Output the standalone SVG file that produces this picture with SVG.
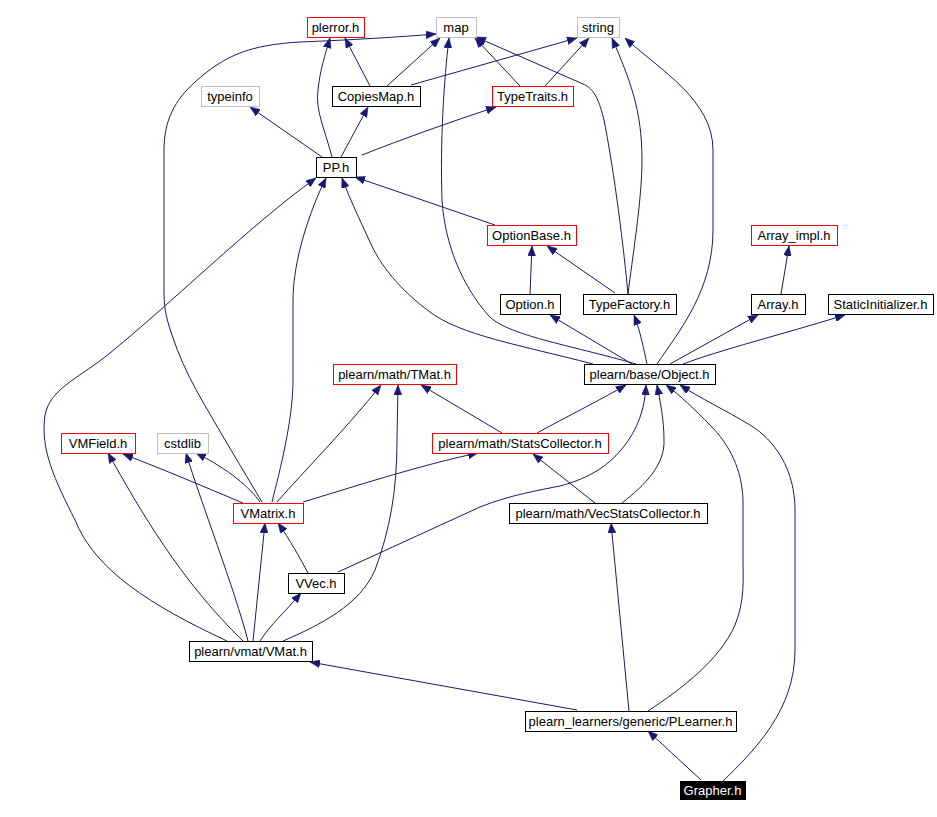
<svg xmlns="http://www.w3.org/2000/svg" width="937" height="817" viewBox="0 0 937 817">
<style>
.n rect{fill:#fff;stroke:#000;stroke-width:1}
.n.r rect{stroke:#ff0000}
.n.g rect{stroke:#bfbfbf}
.n text{font-family:"Liberation Sans",Arial,sans-serif;font-size:13px;text-anchor:middle;fill:#000}
#Grapher rect{fill:#000;stroke:#000}
#Grapher text{fill:#fff}
#edges path{fill:none;stroke:#191970;stroke-width:1;marker-end:url(#ah)}
</style>
<defs>
<marker id="ah" markerWidth="10" markerHeight="8" refX="10" refY="4" orient="auto" markerUnits="userSpaceOnUse">
<path d="M0,0 L10,4 L0,8 z" fill="#191970" stroke="#191970" stroke-width="0.5"/>
</marker>
</defs>
<rect width="937" height="817" fill="#fff"/>
<g id="edges">
<path d="M262,502 L225,440 C205,405 185,375 172,335 C165,315 164,305 164,290 L164,150 C164,120 175,100 195,82 C225,55 250,45 300,42 C350,40 400,37 436,34"/>
<path d="M332,157 C325,130 315,110 318,90 C320,70 325,55 330,38"/>
<path d="M370,86 L345,38"/>
<path d="M387,86 L440,38"/>
<path d="M411,85 L577,38"/>
<path d="M520,86 L475,38"/>
<path d="M545,86 L589,38"/>
<path d="M322,157 L250,107"/>
<path d="M341,157 L368,107"/>
<path d="M362,155 C400,140 450,122 496,107"/>
<path d="M636,364 C570,345 505,335 488,315 C462,285 445,245 442,200 C440,140 444,80 449,38"/>
<path d="M593,364 C520,345 460,335 430,312 C400,290 380,265 370,242 C360,220 350,200 342,178"/>
<path d="M628,294 C622,230 612,160 604,120 C598,95 592,88 583,84 L476,37"/>
<path d="M628,294 C632,260 642,200 642,160 C642,110 630,80 612,38"/>
<path d="M657,364 C680,330 713,290 713,230 L713,150 C713,100 660,70 625,38"/>
<path d="M615,293 L547,246"/>
<path d="M530,294 L532,246"/>
<path d="M632,364 L550,315"/>
<path d="M647,364 C644,350 640,330 634,315"/>
<path d="M670,364 L758,315"/>
<path d="M683,364 C720,350 780,335 845,315"/>
<path d="M781,294 L789,246"/>
<path d="M495,225 L355,177"/>
<path d="M227,641 C150,605 95,570 75,520 C55,480 40,450 45,415 C50,390 75,380 105,357 C170,305 250,225 316,178"/>
<path d="M272,502 C280,470 293,420 293,380 L293,300 C293,260 310,210 326,178"/>
<path d="M277,502 C305,470 345,430 381,385"/>
<path d="M283,641 C320,625 360,605 375,570 C390,530 397,490 397,440 L398,385"/>
<path d="M502,433 L421,385"/>
<path d="M243,503 C200,485 160,468 123,454"/>
<path d="M243,641 C180,580 140,510 108,453"/>
<path d="M260,502 C250,488 230,470 196,453"/>
<path d="M248,641 C235,590 200,500 186,453"/>
<path d="M253,641 L265,523"/>
<path d="M308,573 C300,558 290,540 278,523"/>
<path d="M260,641 C270,625 285,612 301,593"/>
<path d="M303,502 C350,488 420,465 478,453"/>
<path d="M338,572 L480,507 C510,495 540,490 560,486 C590,478 610,465 625,445 C640,425 645,405 646,385"/>
<path d="M537,433 C570,415 600,400 626,385"/>
<path d="M595,503 L533,454"/>
<path d="M622,503 C645,485 665,465 664,440 C664,420 660,400 657,385"/>
<path d="M629,711 L611,523"/>
<path d="M648,711 C680,690 720,660 735,625 C745,600 743,580 743,560 L743,500 C742,470 730,445 710,425 C695,410 680,395 666,385"/>
<path d="M723,781 C755,750 795,710 795,650 L795,510 C795,470 775,440 750,425 C725,410 700,398 680,385"/>
<path d="M701,780 L648,731"/>
<path d="M577,710 L310,662"/>
</g>
<g id="plerror" class="n r"><rect x="307.5" y="17.5" width="57" height="20"/><text x="335.5" y="32">plerror.h</text></g>
<g id="map" class="n g"><rect x="436.5" y="17.5" width="40" height="20"/><text x="456" y="32">map</text></g>
<g id="string" class="n g"><rect x="577.5" y="17.5" width="42" height="20"/><text x="598" y="32">string</text></g>
<g id="typeinfo" class="n g"><rect x="201.5" y="86.5" width="58" height="20"/><text x="230" y="101">typeinfo</text></g>
<g id="CopiesMap" class="n"><rect x="332.5" y="86.5" width="88" height="20"/><text x="376" y="101">CopiesMap.h</text></g>
<g id="TypeTraits" class="n r"><rect x="492.5" y="86.5" width="81" height="20"/><text x="532.5" y="101">TypeTraits.h</text></g>
<g id="PP" class="n"><rect x="316.5" y="157.5" width="40" height="20"/><text x="336" y="172">PP.h</text></g>
<g id="OptionBase" class="n r"><rect x="487.5" y="225.5" width="89" height="20"/><text x="531.5" y="240">OptionBase.h</text></g>
<g id="Array_impl" class="n r"><rect x="751.5" y="225.5" width="86" height="20"/><text x="794" y="240">Array_impl.h</text></g>
<g id="Option" class="n"><rect x="500.5" y="294.5" width="60" height="20"/><text x="530" y="309">Option.h</text></g>
<g id="TypeFactory" class="n"><rect x="583.5" y="294.5" width="93" height="20"/><text x="629.5" y="309">TypeFactory.h</text></g>
<g id="Array" class="n"><rect x="751.5" y="294.5" width="54" height="20"/><text x="778" y="309">Array.h</text></g>
<g id="StaticInitializer" class="n"><rect x="828.5" y="294.5" width="105" height="20"/><text x="880.5" y="309">StaticInitializer.h</text></g>
<g id="Object" class="n"><rect x="584.5" y="364.5" width="131" height="20"/><text x="649.5" y="379">plearn/base/Object.h</text></g>
<g id="TMat" class="n r"><rect x="333.5" y="364.5" width="123" height="20"/><text x="394.5" y="379">plearn/math/TMat.h</text></g>
<g id="VMField" class="n r"><rect x="61.5" y="433.5" width="74" height="20"/><text x="98" y="448">VMField.h</text></g>
<g id="cstdlib" class="n g"><rect x="157.5" y="433.5" width="51" height="20"/><text x="182.5" y="448">cstdlib</text></g>
<g id="StatsCollector" class="n r"><rect x="432.5" y="433.5" width="176" height="20"/><text x="520" y="448">plearn/math/StatsCollector.h</text></g>
<g id="VMatrix" class="n r"><rect x="233.5" y="503.5" width="70" height="20"/><text x="268" y="518">VMatrix.h</text></g>
<g id="VecStatsCollector" class="n"><rect x="509.5" y="503.5" width="198" height="20"/><text x="608" y="518">plearn/math/VecStatsCollector.h</text></g>
<g id="VVec" class="n"><rect x="288.5" y="573.5" width="56" height="20"/><text x="316" y="588">VVec.h</text></g>
<g id="VMat" class="n"><rect x="189.5" y="641.5" width="123" height="20"/><text x="250.5" y="656">plearn/vmat/VMat.h</text></g>
<g id="PLearner" class="n"><rect x="525.5" y="711.5" width="211" height="20"/><text x="630.5" y="726">plearn_learners/generic/PLearner.h</text></g>
<g id="Grapher" class="n"><rect x="680.5" y="781.5" width="65" height="18"/><text x="712.5" y="795">Grapher.h</text></g>
</svg>
